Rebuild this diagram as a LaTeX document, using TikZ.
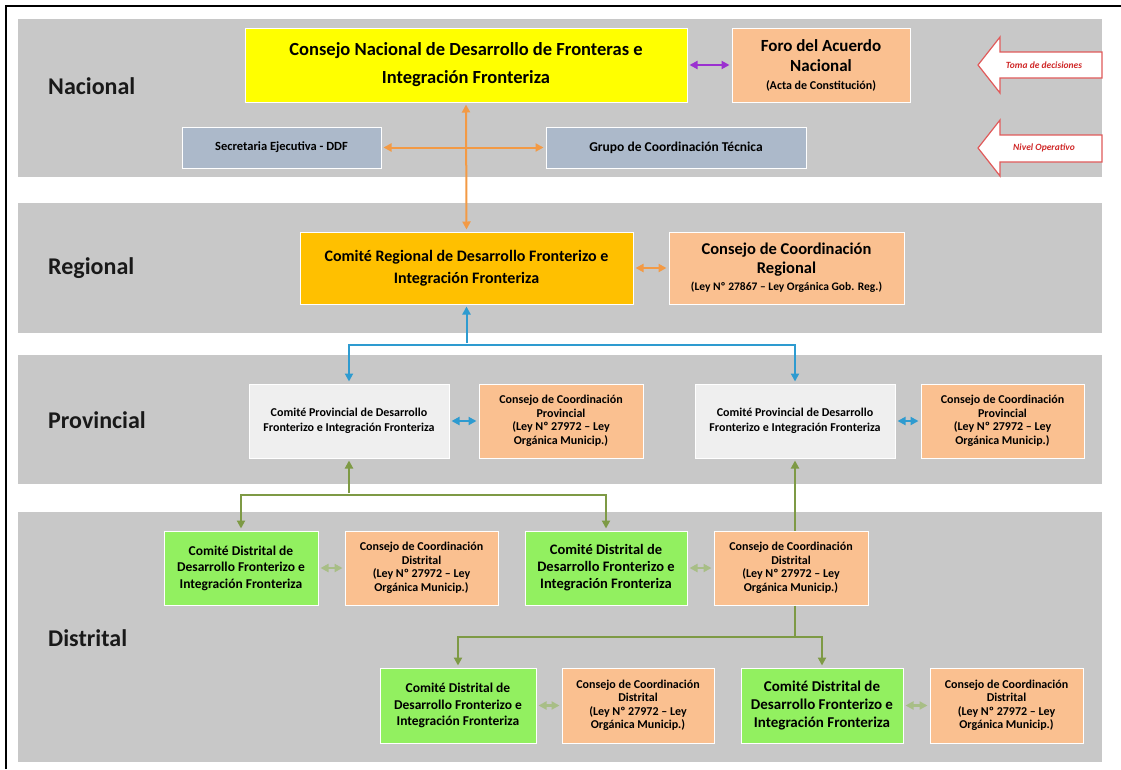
\documentclass[tikz,border=0pt]{standalone}
\usepackage{fontspec}
\setmainfont{Carlito}
\usetikzlibrary{arrows.meta}
\definecolor{bandgray}{HTML}{C8C8C8}
\definecolor{cyellow}{HTML}{FFFF00}
\definecolor{cpeach}{HTML}{FAC090}
\definecolor{cslate}{HTML}{ACB9CA}
\definecolor{cgold}{HTML}{FFC000}
\definecolor{clight}{HTML}{EFEFEF}
\definecolor{cgreen}{HTML}{92F060}
\definecolor{aorange}{HTML}{F39A45}
\definecolor{apurple}{HTML}{9B30D0}
\definecolor{ablue}{HTML}{2E9BD0}
\definecolor{agreen}{HTML}{7E9A45}
\definecolor{agreenpale}{HTML}{A8BE86}
\definecolor{tred}{HTML}{D02828}
\definecolor{tredline}{HTML}{E05A5A}
\newcommand\fsz[2]{\fontsize{#1}{#2}\selectfont}
\begin{document}
\begin{tikzpicture}[x=1pt,y=-1pt,
  otri/.tip={Triangle[length=8pt,width=8pt]},
  box/.style={draw=white, line width=1pt, inner sep=0pt, align=center, text=black},
  bandlabel/.style={anchor=west, inner sep=0pt, font=\bfseries\fsz{24}{28}, text=black!90},
  conn/.style={line width=2pt, shorten <=2pt, shorten >=2pt},
  orarr/.style={conn, draw=aorange},
  bluarr/.style={conn, draw=ablue},
  grnarr/.style={conn, draw=agreen},
  pgrnarr/.style={conn, line width=2.5pt, draw=agreenpale, {otri}-{otri}},
  sidearrow/.style={draw=tredline, fill=white, line width=1.2pt},
  sidetext/.style={inner sep=0pt, text=tred, font=\bfseries\itshape\fsz{9.5}{11}}
]
\useasboundingbox (0,0) rectangle (1121,769);
\fill[white] (0,0) rectangle (1121,769);
\draw[line width=2pt] (6,769) -- (6,6) -- (1121,6);

% bands
\fill[bandgray] (18,19) rectangle (1102,177);
\fill[bandgray] (18,203) rectangle (1102,333);
\fill[bandgray] (18,355) rectangle (1102,484);
\fill[bandgray] (18,512) rectangle (1102,762);

\node[bandlabel] (lnac) at (48,86) {Nacional};
\node[bandlabel] (lreg) at (48,268) {Regional};
\node[bandlabel] (lprov) at (48,420) {Provincial};
\node[bandlabel] (ldist) at (48,638) {Distrital};

% Nacional
\node[box, fill=cyellow, minimum width=442pt, minimum height=74pt, font=\bfseries\fsz{18.5}{28}] (cn) at (466,65)
  {Consejo Nacional de Desarrollo de Fronteras e\\Integración Fronteriza};
\node[box, fill=cpeach, minimum width=178pt, minimum height=74pt, font=\bfseries\fsz{17}{20}] (foro) at (821,65)
  {Foro del Acuerdo\\Nacional\\[-2pt]{\fsz{12}{14}(Acta de Constitución)}};
\node[box, fill=cslate, minimum width=199pt, minimum height=41pt, font=\bfseries\fsz{12.5}{15}] (sec) at (281.5,147.5)
  {Secretaria Ejecutiva - DDF};
\node[box, fill=cslate, minimum width=260pt, minimum height=41pt, font=\bfseries\fsz{13.5}{16}] (grupo) at (676,147.5)
  {Grupo de Coordinación Técnica};

\draw[sidearrow] (978,65) -- (1000,37) -- (1000,52) -- (1102,52) -- (1102,78) -- (1000,78) -- (1000,93) -- cycle;
\node[sidetext] (toma) at (1044,65) {Toma de decisiones};
\draw[sidearrow] (978,148) -- (1000,120) -- (1000,135) -- (1102,135) -- (1102,162) -- (1000,162) -- (1000,176) -- cycle;
\node[sidetext] (nivel) at (1044,148) {Nivel Operativo};

% Regional
\node[box, fill=cgold, minimum width=333pt, minimum height=72pt, font=\bfseries\fsz{16}{22}] (reg) at (466.5,268)
  {Comité Regional de Desarrollo Fronterizo e\\Integración Fronteriza};
\node[box, fill=cpeach, minimum width=235pt, minimum height=72pt, font=\bfseries\fsz{16.5}{19}] (ccr) at (786.5,268)
  {Consejo de Coordinación\\Regional\\[-2pt]{\fsz{11.5}{14}(Ley Nº 27867 – Ley Orgánica Gob. Reg.)}};

% Provincial
\node[box, fill=clight, minimum width=200pt, minimum height=74pt, font=\bfseries\fsz{12}{15.5}] (p1) at (349,421)
  {Comité Provincial de Desarrollo\\Fronterizo e Integración Fronteriza};
\node[box, fill=cpeach, minimum width=164pt, minimum height=74pt, font=\bfseries\fsz{12}{13.5}] (cp1) at (561,421)
  {Consejo de Coordinación\\Provincial\\(Ley Nº 27972 – Ley\\Orgánica Municip.)};
\node[box, fill=clight, minimum width=200pt, minimum height=74pt, font=\bfseries\fsz{12}{15.5}] (p2) at (795,421)
  {Comité Provincial de Desarrollo\\Fronterizo e Integración Fronteriza};
\node[box, fill=cpeach, minimum width=163pt, minimum height=74pt, font=\bfseries\fsz{12}{13.5}] (cp2) at (1002.5,421)
  {Consejo de Coordinación\\Provincial\\(Ley Nº 27972 – Ley\\Orgánica Municip.)};

% Distrital row 1
\node[box, fill=cgreen, minimum width=154pt, minimum height=74pt, font=\bfseries\fsz{13.5}{16.5}] (d1) at (241,568)
  {Comité Distrital de\\Desarrollo Fronterizo e\\Integración Fronteriza};
\node[box, fill=cpeach, minimum width=153pt, minimum height=74pt, font=\bfseries\fsz{12}{13.5}] (cd1) at (421.5,568)
  {Consejo de Coordinación\\Distrital\\(Ley Nº 27972 – Ley\\Orgánica Municip.)};
\node[box, fill=cgreen, minimum width=162pt, minimum height=74pt, font=\bfseries\fsz{14.5}{17}] (d2) at (606,568)
  {Comité Distrital de\\Desarrollo Fronterizo e\\Integración Fronteriza};
\node[box, fill=cpeach, minimum width=154pt, minimum height=74pt, font=\bfseries\fsz{12}{13.5}] (cd2) at (791,568)
  {Consejo de Coordinación\\Distrital\\(Ley Nº 27972 – Ley\\Orgánica Municip.)};

% Distrital row 2
\node[box, fill=cgreen, minimum width=156pt, minimum height=75pt, font=\bfseries\fsz{13.5}{16.5}] (d3) at (458,705.5)
  {Comité Distrital de\\Desarrollo Fronterizo e\\Integración Fronteriza};
\node[box, fill=cpeach, minimum width=152pt, minimum height=75pt, font=\bfseries\fsz{12}{13.5}] (cd3) at (638,705.5)
  {Consejo de Coordinación\\Distrital\\(Ley Nº 27972 – Ley\\Orgánica Municip.)};
\node[box, fill=cgreen, minimum width=162pt, minimum height=75pt, font=\bfseries\fsz{15}{18}] (d4) at (822,705.5)
  {Comité Distrital de\\Desarrollo Fronterizo e\\Integración Fronteriza};
\node[box, fill=cpeach, minimum width=153pt, minimum height=75pt, font=\bfseries\fsz{12}{13.5}] (cd4) at (1006.5,705.5)
  {Consejo de Coordinación\\Distrital\\(Ley Nº 27972 – Ley\\Orgánica Municip.)};

% connectors: national
\draw[conn, draw=apurple, line width=2.5pt, {otri}-{otri}] (cn.east) -- (foro.west);
\draw[orarr, {otri}-{otri}] (sec.east) -- (grupo.west);
\draw[orarr, {otri}-{otri}] (cn.south) -- (reg.north);
\draw[orarr, {otri}-{otri}] (reg.east) -- (ccr.west);

% regional to provincial
\coordinate (bj) at (466.5,345);
\draw[bluarr, -{otri}] (bj) -- (reg.south);
\draw[bluarr, shorten <=0pt, -{otri}] (bj) -| (p1.north);
\draw[bluarr, shorten <=0pt, -{otri}] (bj) -| (p2.north);
\draw[bluarr, {otri}-{otri}] (p1.east) -- (cp1.west);
\draw[bluarr, {otri}-{otri}] (p2.east) -- (cp2.west);

% provincial to distrital
\coordinate (gj1) at (349,495);
\draw[grnarr, -{otri}] (gj1) -- (p1.south);
\draw[grnarr, shorten <=0pt, -{otri}] (gj1) -| (d1.north);
\draw[grnarr, shorten <=0pt, -{otri}] (gj1) -| (d2.north);
\draw[grnarr, shorten <=0pt, -{otri}] (p2.south |- cd2.north) -- (p2.south);

\coordinate (gj2) at (795,637);
\draw[grnarr, shorten <=0pt, shorten >=0pt] (p2.south |- cd2.south) -- (gj2);
\draw[grnarr, shorten <=0pt, -{otri}] (gj2) -| (d3.north);
\draw[grnarr, shorten <=0pt, -{otri}] (gj2) -| (d4.north);

\draw[pgrnarr] (d1.east) -- (cd1.west);
\draw[pgrnarr] (d2.east) -- (cd2.west);
\draw[pgrnarr] (d3.east) -- (cd3.west);
\draw[pgrnarr] (d4.east) -- (cd4.west);
\end{tikzpicture}
\end{document}
